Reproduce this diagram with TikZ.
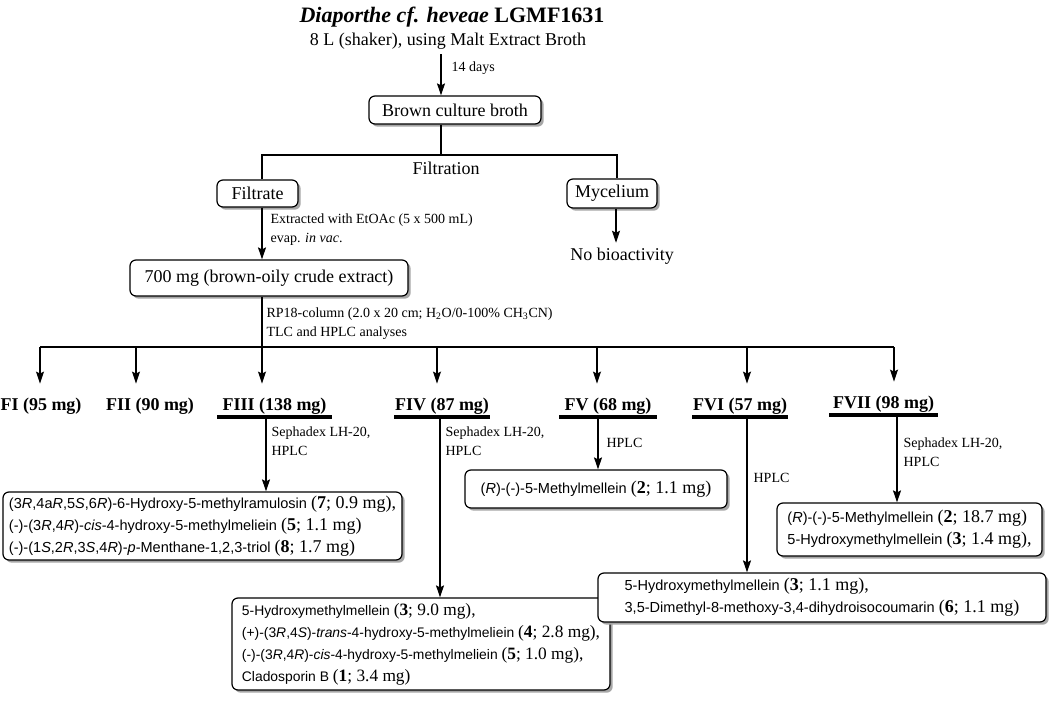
\documentclass[tikz,border=0pt]{standalone}
\usepackage{fontspec}
\setmainfont{Liberation Serif}
\setsansfont{Liberation Sans}
\usetikzlibrary{arrows.meta,shadows}

\begin{document}
\begin{tikzpicture}[x=0.75pt,y=-0.75pt,line width=0.9pt,
    arr/.style={-{Stealth[length=9pt,width=6pt,inset=1.5pt]}},
    frarr/.style={arr,shorten >=8pt},
    box/.style={draw,rounded corners=4.5pt,fill=white,inner sep=0pt,
        drop shadow={shadow xshift=2pt,shadow yshift=-2pt,fill=black!35,opacity=1}},
    big/.style={font=\fontsize{13.5}{16}\selectfont},
    lbl/.style={font=\fontsize{10.5}{14.25}\selectfont,align=left,inner sep=0pt},
    cmpd/.style={box,align=left,font=\sffamily\fontsize{10.9}{16.5}\selectfont},
    frac/.style={font=\bfseries\fontsize{13.5}{16}\selectfont,inner ysep=2pt,inner xsep=0pt,anchor=base}]
    \def\amtsize{13.5}
    \def\amt#1#2{{\rmfamily\fontsize{\amtsize}{16}\selectfont(\textbf{#1}; #2}}
    \useasboundingbox (0,0) rectangle (1050,703);

    \node (title) at (452,17) {\fontsize{16.5}{20}\selectfont\bfseries\itshape Diaporthe cf. heveae \upshape LGMF1631};
    \node[big] (medium) at (448,41) {8 L (shaker), using Malt Extract Broth};
    \node[box,big,minimum width=129pt,minimum height=21pt] (broth) at (455,110) {Brown culture broth};
    \node[big] (filtration) at (446,168) {Filtration};
    \node[box,big,minimum width=60.75pt,minimum height=20.25pt] (filtrate) at (257.5,193.5) {Filtrate};
    \node[box,big,minimum width=67.5pt,minimum height=21.75pt] (mycelium) at (612,193.5) {Mycelium};
    \node[big] (nobio) at (622,256) {No bioactivity};
    \node[box,big,minimum width=208.5pt,minimum height=27pt] (crude) at (269,278) {700 mg (brown-oily crude extract)};

    \node[lbl,anchor=west] (days) at (451,68) {14 days};
    \node[lbl,anchor=west] (extr) at (270,229.5) {Extracted with EtOAc (5 x 500 mL)\\evap. \textit{in vac}.};
    \node[lbl,anchor=west] (rp) at (266,323.5) {RP18-column (2.0 x 20 cm; H\textsubscript{2}O/0-100\% CH\textsubscript{3}CN)\\TLC and HPLC analyses};

    \coordinate (fc) at (441,155);
    \coordinate (fl) at (262,155);
    \coordinate (fr) at (617,155);
    \draw[arr] (medium.south -| fc) -- (broth.north -| fc);
    \draw (broth.south -| fc) -- (fc);
    \draw (filtrate.north -| fl) -- (fl) -- (fr) -- (mycelium.north -| fr);
    \draw[arr] (filtrate.south -| fl) -- (crude.north -| fl);
    \draw[arr] (mycelium.south -| 616,0) -- (nobio.north -| 616,0);

    \node[frac] (f1) at (41,410) {FI (95 mg)};
    \node[frac] (f2) at (150,410) {FII (90 mg)};
    \node[frac,minimum width=84.75pt] (f3) at (274.5,410) {FIII (138 mg)};
    \node[frac,minimum width=70.5pt] (f4) at (442,410) {FIV (87 mg)};
    \node[frac,minimum width=72pt] (f5) at (608,410) {FV (68 mg)};
    \node[frac,minimum width=64.5pt] (f6) at (740,410) {FVI (57 mg)};
    \node[frac,minimum width=80.25pt] (f7) at (883.5,408) {FVII (98 mg)};
    \foreach \f in {f3,f4,f5,f6,f7}
        \draw[line width=3pt] (\f.south west) -- (\f.south east);

    \coordinate (c1) at (40,347);
    \coordinate (c2) at (136,347);
    \coordinate (c3) at (262,347);
    \coordinate (c4) at (437,347);
    \coordinate (c5) at (597,347);
    \coordinate (c6) at (747,347);
    \coordinate (c7) at (894,347);
    \draw (crude.south -| c3) -- (c3);
    \draw (c1) -- (c7);
    \foreach \i in {1,...,7}
        \draw[frarr] (c\i) -- (c\i |- f\i.north);

    \node[cmpd,minimum width=299.25pt,minimum height=51pt] (b3) at (202.5,526) {(3\textit{R},4a\textit{R},5\textit{S},6\textit{R})-6-Hydroxy-5-methylramulosin \amt{7}{0.9 mg),}\\(-)-(3\textit{R},4\textit{R})-\textit{cis}-4-hydroxy-5-methylmeliein \amt{5}{1.1 mg)}\\(-)-(1\textit{S},2\textit{R},3\textit{S},4\textit{R})-\textit{p}-Menthane-1,2,3-triol \amt{8}{1.7 mg)}};
    \node[cmpd,font=\sffamily\fontsize{10.4}{16.5}\selectfont\def\amtsize{13},minimum width=283.5pt,minimum height=69pt] (b4) at (421,644) {5-Hydroxymethylmellein \amt{3}{9.0 mg),}\\(+)-(3\textit{R},4\textit{S})-\textit{trans}-4-hydroxy-5-methylmeliein \amt{4}{2.8 mg),}\\(-)-(3\textit{R},4\textit{R})-\textit{cis}-4-hydroxy-5-methylmeliein \amt{5}{1.0 mg),}\\Cladosporin B \amt{1}{3.4 mg)}};
    \node[cmpd,minimum width=196.5pt,minimum height=28.5pt] (b5) at (596,489) {(\textit{R})-(-)-5-Methylmellein \amt{2}{1.1 mg)}};
    \node[cmpd,minimum width=336pt,minimum height=36.75pt] (b6) at (822,597.5) {5-Hydroxymethylmellein \amt{3}{1.1 mg),}\\3,5-Dimethyl-8-methoxy-3,4-dihydroisocoumarin \amt{6}{1.1 mg)}};
    \node[cmpd,minimum width=198.75pt,minimum height=39.75pt] (b7) at (909.5,529.5) {(\textit{R})-(-)-5-Methylmellein \amt{2}{18.7 mg)}\\5-Hydroxymethylmellein \amt{3}{1.4 mg),}};

    \draw[arr] (f3.south -| 266,0) -- (b3.north -| 266,0);
    \draw[arr] (f4.south -| 440,0) -- (b4.north -| 440,0);
    \draw[arr] (f5.south -| 598,0) -- (b5.north -| 598,0);
    \draw[arr] (f6.south -| 747,0) -- (b6.north -| 747,0);
    \draw[arr] (f7.south -| 897,0) -- (b7.north -| 897,0);
    \node[lbl,anchor=west] (s3) at (271,441.5) {Sephadex LH-20,\\HPLC};
    \node[lbl,anchor=west] (s4) at (445,441.5) {Sephadex LH-20,\\HPLC};
    \node[lbl,anchor=west] (h5) at (606,443) {HPLC};
    \node[lbl,anchor=west] (h6) at (753,478) {HPLC};
    \node[lbl,anchor=west] (s7) at (903,452) {Sephadex LH-20,\\HPLC};
\end{tikzpicture}
\end{document}
